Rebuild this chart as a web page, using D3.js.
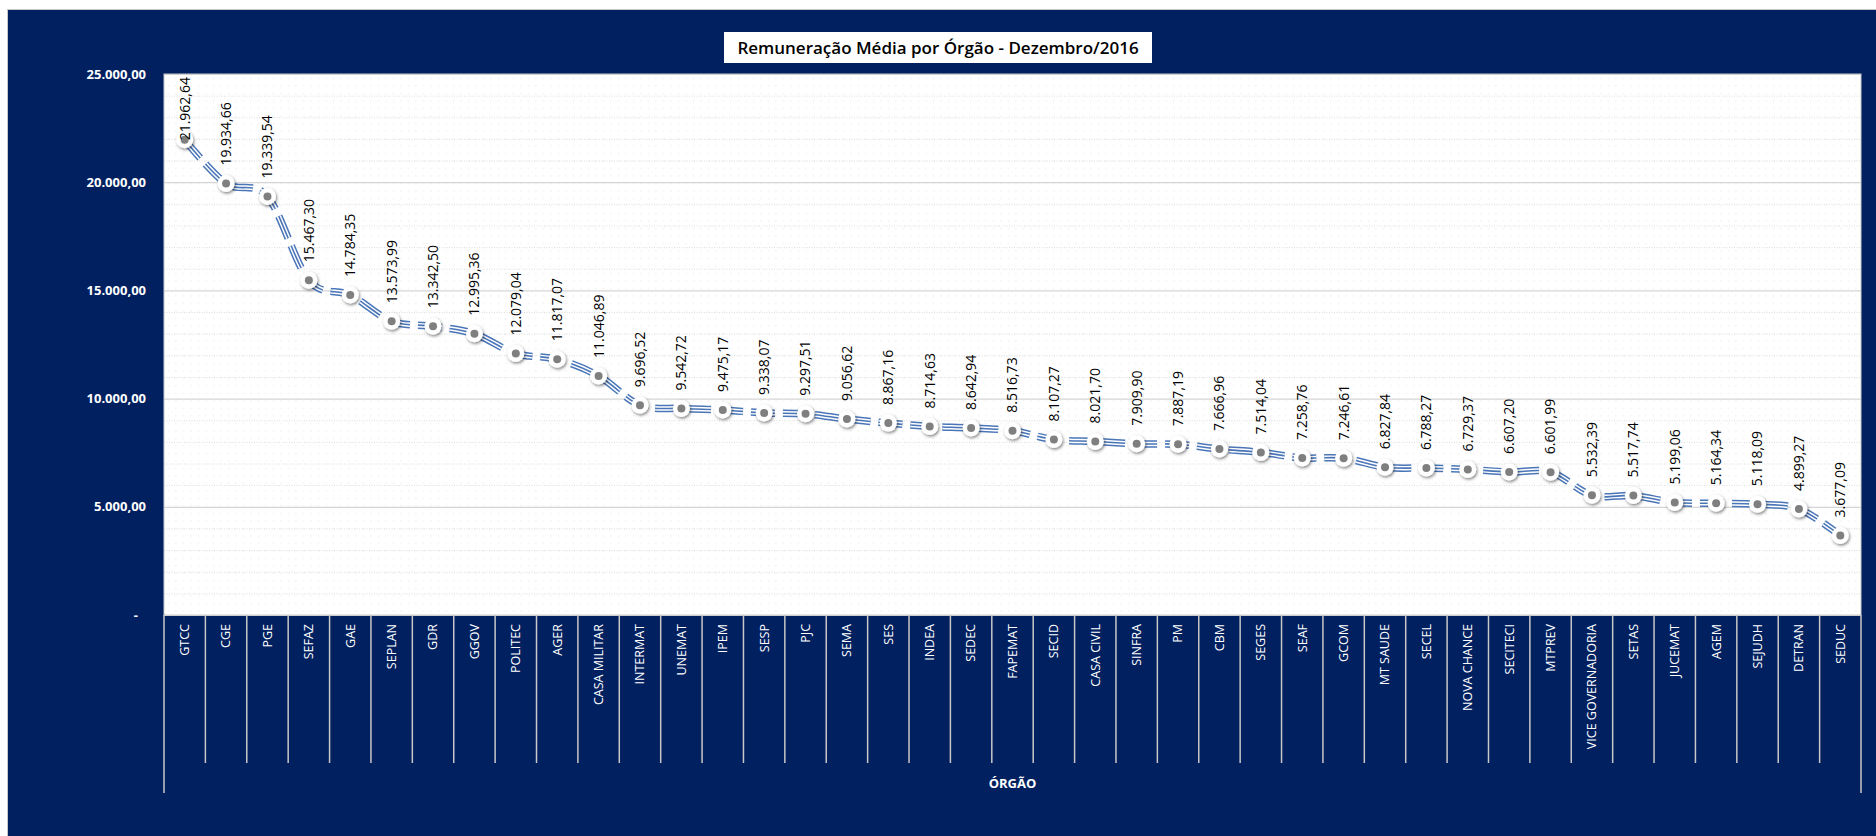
<!DOCTYPE html>
<html><head><meta charset="utf-8">
<script src="https://cdn.jsdelivr.net/npm/d3@7"></script>
<style>html,body{margin:0;padding:0;background:#fff;overflow:hidden}</style>
</head><body><svg id="c" width="1876" height="836"></svg>
<script>
const categories = ["GTCC","CGE","PGE","SEFAZ","GAE","SEPLAN","GDR","GGOV","POLITEC","AGER","CASA MILITAR","INTERMAT","UNEMAT","IPEM","SESP","PJC","SEMA","SES","INDEA","SEDEC","FAPEMAT","SECID","CASA CIVIL","SINFRA","PM","CBM","SEGES","SEAF","GCOM","MT SAUDE","SECEL","NOVA CHANCE","SECITECI","MTPREV","VICE GOVERNADORIA","SETAS","JUCEMAT","AGEM","SEJUDH","DETRAN","SEDUC"];
const values = [21962.64,19934.66,19339.54,15467.30,14784.35,13573.99,13342.50,12995.36,12079.04,11817.07,11046.89,9696.52,9542.72,9475.17,9338.07,9297.51,9056.62,8867.16,8714.63,8642.94,8516.73,8107.27,8021.70,7909.90,7887.19,7666.96,7514.04,7258.76,7246.61,6827.84,6788.27,6729.37,6607.20,6601.99,5532.39,5517.74,5199.06,5164.34,5118.09,4899.27,3677.09];
const yTicks = [0,5000,10000,15000,20000,25000];
const minorTicks = d3.range(1000,25000,1000).filter(v=>v%5000!==0);
const titleText = "Remuneração Média por Órgão - Dezembro/2016";
const axisTitle = "ÓRGÃO";

const navy = "#002060";
const svg = d3.select("#c");
const loc = d3.formatLocale({decimal:",",thousands:".",grouping:[3],currency:["R$ ",""]});
const fmt = loc.format(",.2f");

svg.append("rect").attr("width",1876).attr("height",836).attr("fill","#fff");
svg.append("rect").attr("x",7.5).attr("y",9.5).attr("width",1880).attr("height",840)
  .attr("fill",navy).attr("stroke","#c8c8c8").attr("stroke-width",1);

const L=164,R=1861,T=74,B=615;
const x = d3.scaleBand().domain(categories).range([L,R]).padding(0);
const y = d3.scaleLinear().domain([0,25000]).range([B,T]);

const defs = svg.append("defs");
const pat = defs.append("pattern").attr("id","dots").attr("patternUnits","userSpaceOnUse")
  .attr("width",7.5).attr("height",7.5);
pat.append("rect").attr("width",7.5).attr("height",7.5).attr("fill","#fff");
pat.append("rect").attr("x",3).attr("y",3).attr("width",1).attr("height",1).attr("fill","#e4e4e4");
const sh = defs.append("filter").attr("id","sh").attr("x","-50%").attr("y","-50%").attr("width","200%").attr("height","200%");
sh.append("feDropShadow").attr("dx",1).attr("dy",1.5).attr("stdDeviation",1.6).attr("flood-color","#000").attr("flood-opacity",0.5);

svg.append("rect").attr("x",L).attr("y",T).attr("width",R-L).attr("height",B-T).attr("fill","url(#dots)");

svg.append("g").selectAll("line").data(minorTicks).join("line")
  .attr("x1",L).attr("x2",R).attr("y1",d=>y(d)+0.5).attr("y2",d=>y(d)+0.5)
  .attr("stroke","#dcdcdc").attr("stroke-width",1).attr("stroke-dasharray","1,1.5");
svg.append("g").selectAll("line").data(yTicks).join("line")
  .attr("x1",L).attr("x2",R).attr("y1",d=>y(d)+0.5).attr("y2",d=>y(d)+0.5)
  .attr("stroke","#d6d6d6").attr("stroke-width",1.2);
svg.append("rect").attr("x",L).attr("y",T).attr("width",R-L).attr("height",B-T)
  .attr("fill","none").attr("stroke","#c8c8c8").attr("stroke-width",1);

const ya = svg.append("g").attr("transform",`translate(${L},0)`)
  .call(d3.axisLeft(y).tickValues(yTicks).tickSize(0).tickPadding(18)
    .tickFormat(d=>d===0?"-":fmt(d)));
ya.select(".domain").remove();
ya.selectAll("text").attr("fill","#fff").attr("font-family","Open Sans, sans-serif")
  .attr("font-size","13px").attr("font-weight","bold");
ya.selectAll(".tick").filter(d=>d===0).select("text").attr("dx","-8");

const bounds = categories.map(c=>x(c)).concat([R]);
svg.append("g").selectAll("line").data(bounds).join("line")
  .attr("x1",d=>d).attr("x2",d=>d).attr("y1",B)
  .attr("y2",(d,i)=>(i===0||i===bounds.length-1)?793:763)
  .attr("stroke","#c8c8c8").attr("stroke-width",1.5);

svg.append("g").selectAll("text").data(categories).join("text")
  .attr("transform",d=>`translate(${x(d)+x.bandwidth()/2},${B+9}) rotate(-90)`)
  .attr("text-anchor","end").attr("dy","0.35em")
  .attr("fill","#fff").attr("font-family","Open Sans, sans-serif").attr("font-size","12.5px")
  .text(d=>d);

svg.append("text").attr("x",(L+R)/2).attr("y",783).attr("dy","0.35em").attr("text-anchor","middle")
  .attr("fill","#fff").attr("font-family","Open Sans, sans-serif").attr("font-size","13px").attr("font-weight","bold")
  .text(axisTitle);

const tg = svg.append("g");
tg.append("rect").attr("x",724).attr("y",32).attr("width",428).attr("height",31).attr("fill","#fff");
tg.append("text").attr("x",938).attr("y",48).attr("dy","0.35em").attr("text-anchor","middle")
  .attr("fill","#000").attr("font-family","Open Sans, sans-serif").attr("font-size","17px").attr("font-weight","600")
  .text(titleText);

const pts = categories.map((c,i)=>[x(c)+x.bandwidth()/2, y(values[i])]);
const line = d3.line().curve(d3.curveCatmullRom.alpha(0));
const lg = svg.append("g");
const dash = "24,8";
lg.append("path").attr("d",line(pts)).attr("fill","none").attr("stroke","#4a76b8").attr("stroke-width",7.5).attr("stroke-dasharray",dash);
lg.append("path").attr("d",line(pts)).attr("fill","none").attr("stroke","#fff").attr("stroke-width",4.5).attr("stroke-dasharray",dash);
lg.append("path").attr("d",line(pts)).attr("fill","none").attr("stroke","#4a76b8").attr("stroke-width",1.6).attr("stroke-dasharray",dash);

const mg = svg.append("g").selectAll("g").data(pts).join("g").attr("transform",d=>`translate(${d[0]},${d[1]})`);
mg.append("circle").attr("r",8.5).attr("fill","#fff").attr("filter","url(#sh)");
mg.append("circle").attr("r",4).attr("fill","#7f7f7f");

const lbl = svg.append("g").selectAll("text").data(values).join("text")
  .attr("text-anchor","start").attr("dy","0.35em")
  .attr("fill","#000").attr("font-family","Open Sans, sans-serif").attr("font-size","14px")
  .text(d=>fmt(d));
lbl.each(function(d,i){
  const len = this.getComputedTextLength();
  let yb = pts[i][1]-18;
  if (yb-len < T+3) yb = T+3+len;
  d3.select(this).attr("transform",`translate(${pts[i][0]},${yb}) rotate(-90)`);
});
</script></body></html>
